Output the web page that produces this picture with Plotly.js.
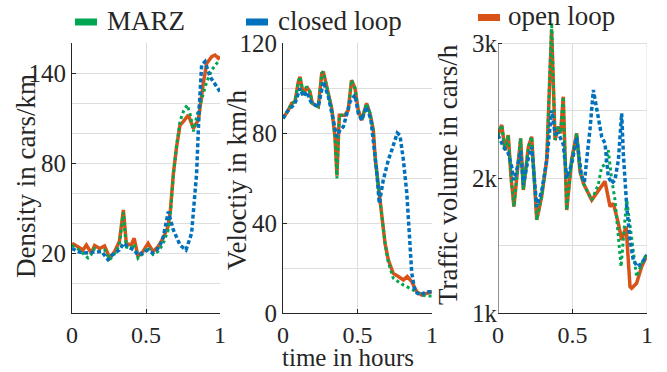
<!DOCTYPE html>
<html>
<head>
<meta charset="utf-8">
<script src="https://cdn.plot.ly/plotly-3.0.1.min.js"></script>
<style>html,body{margin:0;padding:0;background:#fff;}#chart{width:667px;height:372px;}</style>
</head>
<body>
<div id="chart"></div>
<script>
// ---------- Data (time in hours) ----------
// Density in cars/km
const tDensOpen = [0, 0.02, 0.04, 0.074, 0.097, 0.13, 0.153, 0.187, 0.22, 0.255, 0.288, 0.32, 0.347, 0.367, 0.40, 0.42, 0.446, 0.48, 0.514, 0.547, 0.581, 0.615, 0.649, 0.665, 0.685, 0.707, 0.73, 0.752, 0.786, 0.82, 0.854, 0.887, 0.91, 0.944, 0.966, 0.989, 1.0];
const densOpen = [26.4, 25, 24.2, 22, 25.3, 20, 25, 23, 24.7, 16.7, 21, 27.6, 48.7, 26.4, 25.3, 29.8, 17.8, 21, 26.4, 21, 24.2, 29.8, 37.6, 48.7, 73.1, 90.9, 105.3, 107.6, 112, 103.1, 108.7, 133.1, 146.4, 150.9, 152, 149.8, 151];
const tDensMarz = [0, 0.03, 0.06, 0.09, 0.108, 0.13, 0.153, 0.187, 0.22, 0.255, 0.288, 0.32, 0.347, 0.367, 0.40, 0.42, 0.446, 0.48, 0.514, 0.547, 0.581, 0.615, 0.649, 0.665, 0.685, 0.707, 0.73, 0.755, 0.779, 0.80, 0.82, 0.845, 0.91, 0.944, 0.99];
const densMarz = [25, 23.5, 21, 18, 16.7, 19, 23, 21, 22, 15.6, 19.5, 25, 47, 24, 23, 26, 16.5, 19.5, 24, 19, 21, 26, 35, 46, 72, 92, 108, 115, 118.7, 112, 101, 112, 134, 142, 148];
const tDensClosed = [0, 0.04, 0.08, 0.12, 0.16, 0.20, 0.243, 0.28, 0.32, 0.35, 0.38, 0.42, 0.446, 0.48, 0.514, 0.547, 0.572, 0.595, 0.617, 0.651, 0.685, 0.73, 0.77, 0.808, 0.842, 0.86, 0.876, 0.899, 0.932, 0.977, 1.0];
const densClosed = [23, 21, 20, 20.5, 21, 21, 15.6, 19.5, 22, 26.5, 24, 22, 18.5, 20, 22, 20, 22, 25, 31, 47.6, 35.3, 25.3, 22, 33.1, 73.1, 117.6, 145.3, 147.6, 137.6, 131, 127.6];

// Velocity in km/h
const tVelOpen = [0, 0.036, 0.058, 0.08, 0.103, 0.114, 0.137, 0.159, 0.181, 0.197, 0.237, 0.26, 0.271, 0.293, 0.327, 0.349, 0.362, 0.378, 0.416, 0.438, 0.46, 0.483, 0.505, 0.528, 0.561, 0.584, 0.606, 0.62, 0.64, 0.662, 0.685, 0.707, 0.74, 0.774, 0.808, 0.834, 0.864, 0.897, 0.931, 0.964, 1.0];
const velOpen = [86.5, 90.2, 93.2, 93.9, 102.8, 105, 96.9, 100.6, 98.3, 93.2, 91.7, 106.5, 107.2, 101.3, 90.9, 78.3, 61, 87.9, 87.9, 90.2, 103.5, 99.9, 90.2, 85.7, 93.2, 88.7, 81.3, 68, 56.1, 44.3, 30.9, 23.5, 17.6, 16.2, 14.7, 16.2, 13.9, 9.5, 8, 8.7, 9.5];
const tVelMarz = [0, 0.036, 0.058, 0.08, 0.103, 0.114, 0.137, 0.159, 0.181, 0.197, 0.237, 0.26, 0.271, 0.293, 0.327, 0.349, 0.362, 0.378, 0.416, 0.438, 0.46, 0.483, 0.505, 0.528, 0.561, 0.584, 0.606, 0.62, 0.64, 0.662, 0.685, 0.707, 0.74, 0.774, 0.808, 0.855, 0.897, 0.931, 0.964, 1.0];
const velMarz = [86.5, 90.2, 93.2, 93.9, 102.8, 105, 96.9, 100.6, 98.3, 93.2, 91.7, 106.5, 107.2, 101.3, 90.9, 78.3, 59.8, 87.9, 87.9, 90.2, 103.5, 99.9, 90.2, 85.7, 93.2, 88.7, 81.3, 68, 56.1, 44.3, 30.9, 22.5, 15.5, 13.9, 12.4, 10.9, 9.5, 8, 7.6, 7.6];
const tVelClosed = [0, 0.036, 0.08, 0.114, 0.137, 0.159, 0.192, 0.237, 0.271, 0.304, 0.338, 0.36, 0.383, 0.405, 0.45, 0.483, 0.505, 0.528, 0.561, 0.59, 0.628, 0.646, 0.673, 0.707, 0.73, 0.767, 0.785, 0.808, 0.831, 0.842, 0.853, 0.864, 0.886, 0.92, 0.964, 1.0];
const velClosed = [86.5, 90.2, 93, 99.9, 96.2, 98.3, 93.2, 91.7, 102.8, 96.2, 85.7, 78.3, 81.3, 82.8, 93.9, 96.9, 88.7, 85.7, 91.7, 86, 63.6, 48.7, 59.1, 68, 72.4, 80, 79, 68, 53.2, 40, 26.7, 17.8, 9.5, 8, 9.5, 9.5];

// Traffic volume in cars/h
const tVolOpen = [0, 0.025, 0.047, 0.069, 0.088, 0.107, 0.13, 0.152, 0.17, 0.204, 0.226, 0.26, 0.293, 0.327, 0.36, 0.383, 0.405, 0.42, 0.438, 0.461, 0.494, 0.528, 0.55, 0.573, 0.629, 0.673, 0.718, 0.752, 0.774, 0.808, 0.83, 0.86, 0.886, 0.897, 0.93, 0.964, 1.0];
const volOpen = [2318, 2393, 2207, 2318, 2000, 1788, 2050, 2294, 1911, 2232, 2306, 1689, 1862, 2133, 3100, 2281, 2380, 2330, 2602, 1763, 2133, 2331, 2050, 1960, 1837, 1911, 1975, 1788, 1812, 1664, 1541, 1640, 1195, 1183, 1220, 1343, 1430];
const tVolMarz = [0, 0.025, 0.047, 0.069, 0.088, 0.107, 0.13, 0.152, 0.17, 0.204, 0.226, 0.26, 0.293, 0.327, 0.36, 0.383, 0.405, 0.42, 0.438, 0.461, 0.494, 0.528, 0.55, 0.573, 0.629, 0.673, 0.696, 0.72, 0.74, 0.763, 0.785, 0.808, 0.826, 0.845, 0.864, 0.886, 0.908, 0.93, 0.975, 1.0];
const volMarz = [2318, 2393, 2207, 2318, 2000, 1788, 2050, 2294, 1911, 2232, 2306, 1689, 1862, 2133, 3150, 2281, 2380, 2330, 2602, 1763, 2133, 2331, 2050, 1960, 1837, 1950, 2084, 2100, 2207, 1990, 1840, 1590, 1343, 1600, 1837, 1650, 1467, 1269, 1393, 1442];
const tVolClosed = [0, 0.036, 0.069, 0.092, 0.103, 0.12, 0.152, 0.17, 0.204, 0.226, 0.26, 0.293, 0.327, 0.36, 0.383, 0.405, 0.438, 0.461, 0.494, 0.528, 0.56, 0.58, 0.595, 0.617, 0.64, 0.662, 0.696, 0.718, 0.74, 0.763, 0.785, 0.808, 0.83, 0.841, 0.864, 0.886, 0.908, 0.935, 0.964, 1.0];
const volClosed = [2318, 2232, 2183, 2084, 1985, 2030, 2200, 1950, 2150, 2230, 1788, 1900, 2130, 2500, 2330, 2330, 2250, 2000, 2100, 2300, 2020, 1970, 2133, 2356, 2652, 2528, 2306, 2257, 2010, 1960, 1985, 2133, 2479, 2183, 1788, 1541, 1393, 1343, 1368, 1430];

// Labels
const seriesNames = ['MARZ', 'closed loop', 'open loop'];
const xTickVals = [0, 0.5, 1];
const xTickText = ['0', '0.5', '1'];
const densTickVals = [20, 80, 140];
const velTickVals = [0, 40, 80, 120];
const volTickVals = [1000, 2000, 3000];
const volTickText = ['1k', '2k', '3k'];
const yTitles = ['Density in cars/km', 'Veloctiy in km/h', 'Traffic volume in cars/h'];
const xTitle = 'time in hours';

// ---------- Styling ----------
const W = 667, H = 372;
const FONT = "'Liberation Serif', 'Times New Roman', serif";
const FS = 25;      // y tick labels
const FSX = 24;     // x tick labels
const FT = 27;      // y titles / legend
const FXT = 25;     // x title
const AX = '#262626';
const GRID = '#dedede';
const C_MARZ = '#00a651', C_CLOSED = '#0072bd', C_OPEN = '#d95319';
const px = v => v / W;
const py = v => 1 - v / H;

function tr(x, y, xa, ya, color, width, dash, name) {
  return {x: x, y: y, xaxis: xa, yaxis: ya, type: 'scatter', mode: 'lines', name: name,
    showlegend: false, hoverinfo: 'skip',
    line: {color: color, width: width, dash: dash, shape: 'linear'}};
}
const DOT_M = '3px,3px', DOT_C = '4px,2.5px';
const traces = [
  tr(tDensOpen, densOpen, 'x', 'y', C_OPEN, 3.5, 'solid', seriesNames[2]),
  tr(tDensMarz, densMarz, 'x', 'y', C_MARZ, 3, DOT_M, seriesNames[0]),
  tr(tDensClosed, densClosed, 'x', 'y', C_CLOSED, 3.5, DOT_C, seriesNames[1]),
  tr(tVelOpen, velOpen, 'x2', 'y2', C_OPEN, 3.5, 'solid', seriesNames[2]),
  tr(tVelMarz, velMarz, 'x2', 'y2', C_MARZ, 3, DOT_M, seriesNames[0]),
  tr(tVelClosed, velClosed, 'x2', 'y2', C_CLOSED, 3.5, DOT_C, seriesNames[1]),
  tr(tVolOpen, volOpen, 'x3', 'y3', C_OPEN, 3.5, 'solid', seriesNames[2]),
  tr(tVolMarz, volMarz, 'x3', 'y3', C_MARZ, 3, DOT_M, seriesNames[0]),
  tr(tVolClosed, volClosed, 'x3', 'y3', C_CLOSED, 3.5, DOT_C, seriesNames[1])
];

const tickfont = {family: FONT, size: FS, color: AX};
function xax(dom, anchor, grid) {
  return {domain: dom, anchor: anchor, range: [0, 1], tickmode: 'array', tickvals: xTickVals, ticktext: xTickText,
    showgrid: grid, gridcolor: GRID, gridwidth: 1, zeroline: false, showline: true, linecolor: AX, linewidth: 1,
    ticks: 'inside', ticklen: 4, tickcolor: AX, tickfont: {family: FONT, size: FSX, color: AX}, fixedrange: true};
}
function yax(dom, anchor, range, vals, text, minorStep, showline) {
  const a = {domain: dom, anchor: anchor, range: range, tickmode: 'array', tickvals: vals,
    showgrid: true, gridcolor: GRID, gridwidth: 1, zeroline: false, showline: showline, linecolor: AX, linewidth: 1,
    ticks: 'inside', ticklen: 4, tickcolor: AX, tickfont: tickfont, fixedrange: true,
    minor: {dtick: minorStep, tick0: 0, showgrid: true, gridcolor: GRID, gridwidth: 1, ticks: ''}};
  if (text) a.ticktext = text;
  return a;
}
const yDom = [py(313), py(43)];
// traffic axis extended above 3k so the spike is not clipped (same px per unit)
const volTop = 1000 + (313 - 20) / (270 / 2000);
const yDom3 = [py(313), py(20)];

const annFont = {family: FONT, size: FT, color: AX};
const annotations = [
  {text: yTitles[0], x: px(26), y: py(176), textangle: -90},
  {text: yTitles[1], x: px(237), y: py(180), textangle: -90},
  {text: yTitles[2], x: px(448), y: py(175), textangle: -90},
  {text: xTitle, x: px(348), y: py(372), yanchor: 'bottom', font: {family: FONT, size: FXT, color: AX}},
].map(a => Object.assign({xref: 'paper', yref: 'paper', showarrow: false, xanchor: 'center', yanchor: 'middle', font: annFont, borderpad: 0}, a));
// legend
const legendItems = [
  {name: seriesNames[0], color: C_MARZ, x0: 75, x1: 97, yc: 22, tx: 106},
  {name: seriesNames[1], color: C_CLOSED, x0: 246, x1: 268, yc: 22, tx: 277},
  {name: seriesNames[2], color: C_OPEN, x0: 478, x1: 500, yc: 17.5, tx: 507}
];
const shapes = [];
legendItems.forEach(it => {
  shapes.push({type: 'rect', xref: 'paper', yref: 'paper', x0: px(it.x0), x1: px(it.x1), y0: py(it.yc + 3.5), y1: py(it.yc - 3.5),
    fillcolor: it.color, line: {width: 0}});
  annotations.push({text: it.name, xref: 'paper', yref: 'paper', x: px(it.tx), y: py(it.yc - 1), xanchor: 'left', yanchor: 'middle',
    showarrow: false, font: annFont, borderpad: 0});
});
// traffic subplot: vertical grid lines and axis line stop at 3k
[0.5, 1].forEach(v => shapes.push({type: 'line', xref: 'x3', yref: 'y3', x0: v, x1: v, y0: 1000, y1: 3000,
  line: {color: GRID, width: 1}, layer: 'below'}));
shapes.push({type: 'line', xref: 'x3', yref: 'y3', x0: 0, x1: 0, y0: 1000, y1: 3000, line: {color: AX, width: 1}, layer: 'above'});

const layout = {
  width: W, height: H, margin: {l: 0, r: 0, t: 0, b: 0, pad: 0},
  paper_bgcolor: '#ffffff', plot_bgcolor: '#ffffff', showlegend: false,
  font: {family: FONT, size: FS, color: AX},
  xaxis: xax([px(72), px(220)], 'y', true),
  xaxis2: xax([px(283), px(432)], 'y2', true),
  xaxis3: xax([px(498), px(647)], 'y3', false),
  yaxis: yax(yDom, 'x', [-20, 160], densTickVals, null, 20, true),
  yaxis2: yax(yDom, 'x2', [0, 120], velTickVals, null, 20, true),
  yaxis3: yax(yDom3, 'x3', [1000, volTop], volTickVals, volTickText, 500, false),
  annotations: annotations,
  shapes: shapes
};
Plotly.newPlot('chart', traces, layout, {staticPlot: true, displayModeBar: false});
</script>
</body>
</html>
